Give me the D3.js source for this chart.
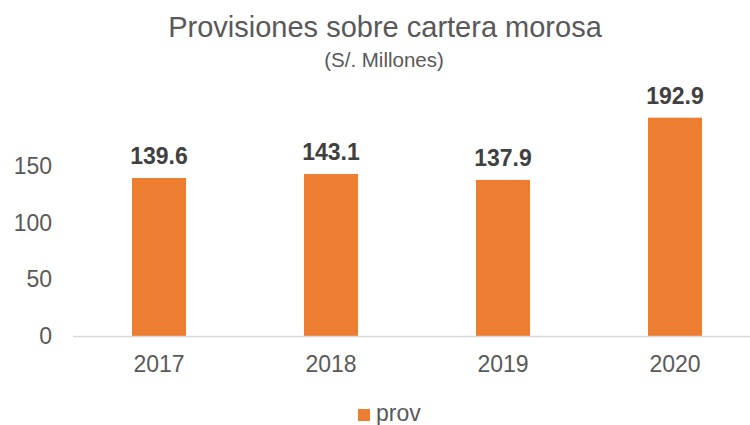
<!DOCTYPE html>
<html>
<head>
<meta charset="utf-8">
<script src="https://cdn.jsdelivr.net/npm/d3@7/dist/d3.min.js"></script>
<style>
  body { margin: 0; background: #fff; }
  text { font-family: 'Liberation Sans', Arial, sans-serif; }
</style>
</head>
<body>
<div id="chart"></div>
<script>
var years = ['2017', '2018', '2019', '2020']
var prov = [139.6, 143.1, 137.9, 192.9]
var yTicks = [0, 50, 100, 150]

var width = 750
var height = 425

var svg = d3
  .select('#chart')
  .append('svg')
  .attr('width', width)
  .attr('height', height)

var xPositionScale = d3
  .scaleBand()
  .domain(years)
  .range([73, 761])
  .paddingInner(0.686)
  .paddingOuter(0.343)

var yPositionScale = d3
  .scaleLinear()
  .domain([0, 139.6])
  .range([336, 178])

// title
svg
  .append('text')
  .text('Provisiones sobre cartera morosa')
  .attr('x', 385)
  .attr('y', 37)
  .attr('text-anchor', 'middle')
  .attr('font-size', 29)
  .attr('fill', '#595959')

svg
  .append('text')
  .text('(S/. Millones)')
  .attr('x', 384)
  .attr('y', 67)
  .attr('text-anchor', 'middle')
  .attr('font-size', 20.5)
  .attr('fill', '#595959')

// y axis labels only
var yAxis = d3
  .axisLeft(yPositionScale)
  .tickValues(yTicks)
  .tickSize(0)
  .tickPadding(0)
svg
  .append('g')
  .attr('class', 'axis y-axis')
  .attr('transform', 'translate(52,0)')
  .call(yAxis)
svg.selectAll('.y-axis path').remove()
svg
  .selectAll('.y-axis text')
  .attr('font-size', 23)
  .attr('fill', '#595959')

// bars
svg
  .selectAll('.bar')
  .data(prov)
  .enter()
  .append('rect')
  .attr('class', 'bar')
  .attr('x', function(d, i) {
    return xPositionScale(years[i])
  })
  .attr('width', xPositionScale.bandwidth())
  .attr('y', function(d) {
    return yPositionScale(d)
  })
  .attr('height', function(d) {
    return yPositionScale(0) - yPositionScale(d)
  })
  .attr('fill', '#ED7D31')

// value labels
svg
  .selectAll('.value')
  .data(prov)
  .enter()
  .append('text')
  .attr('class', 'value')
  .text(function(d) {
    return d.toFixed(1)
  })
  .attr('x', function(d, i) {
    return xPositionScale(years[i]) + xPositionScale.bandwidth() / 2
  })
  .attr('y', function(d) {
    return yPositionScale(d) - 14
  })
  .attr('text-anchor', 'middle')
  .attr('font-size', 23)
  .attr('font-weight', 'bold')
  .attr('fill', '#404040')

// x axis
var xAxis = d3.axisBottom(xPositionScale).tickSize(0).tickPadding(20)
svg
  .append('g')
  .attr('class', 'axis x-axis')
  .attr('transform', 'translate(0,' + yPositionScale(0) + ')')
  .call(xAxis)
svg.selectAll('.x-axis path').remove()
svg
  .selectAll('.x-axis text')
  .attr('font-size', 23)
  .attr('fill', '#595959')

svg
  .append('line')
  .attr('x1', 73)
  .attr('x2', 750)
  .attr('y1', yPositionScale(0) + 0.5)
  .attr('y2', yPositionScale(0) + 0.5)
  .attr('stroke', '#d9d9d9')
  .attr('stroke-width', 1.5)

// legend
var legend = svg.append('g').attr('transform', 'translate(358,409)')
legend
  .append('rect')
  .attr('width', 12)
  .attr('height', 12)
  .attr('fill', '#ED7D31')
legend
  .append('text')
  .text('prov')
  .attr('x', 18)
  .attr('y', 12)
  .attr('font-size', 23)
  .attr('fill', '#595959')
</script>
</body>
</html>
